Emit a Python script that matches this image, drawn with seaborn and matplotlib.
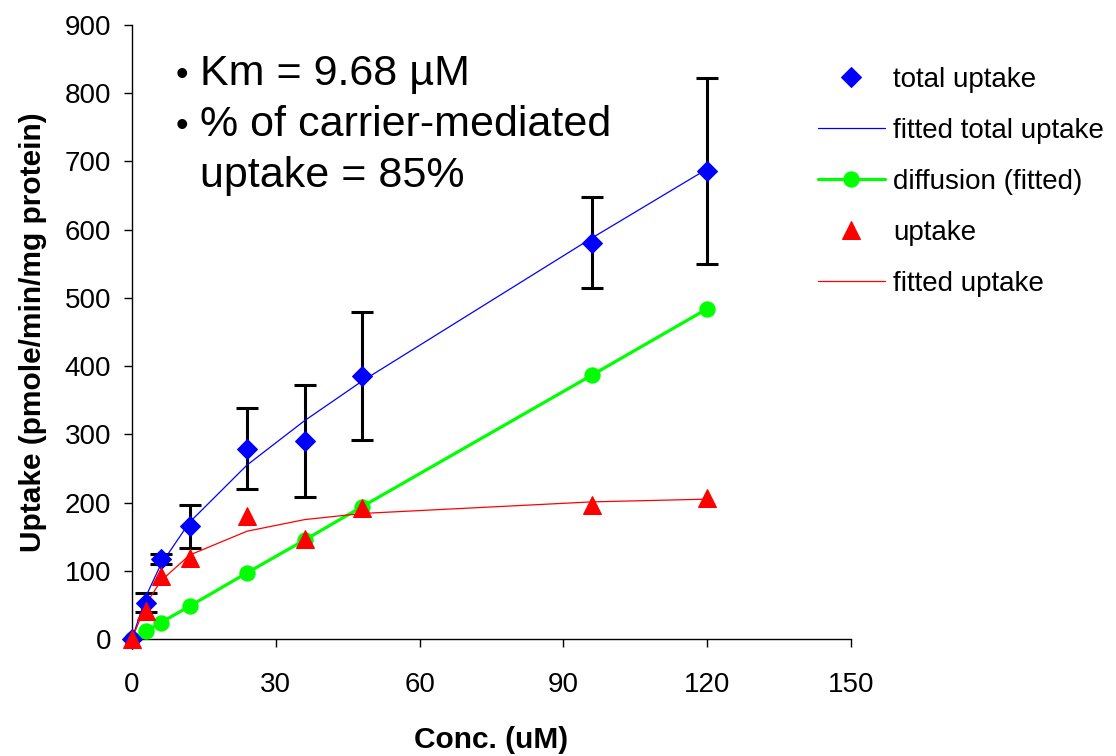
import matplotlib
matplotlib.use("Agg")
import matplotlib.pyplot as plt
import numpy as np
import pandas as pd
import seaborn as sns

# Concentrations (uM)
conc = [0, 3, 6, 12, 24, 36, 48, 96, 120]

# Measured total uptake (pmole/min/mg protein) with standard deviations
total_uptake = [0, 53, 117, 165, 279, 290, 385, 581, 686]
total_sd = [0, 14, 7, 32, 59, 82, 94, 67, 136]

# Fitted curves and derived carrier-mediated uptake
fitted_total = [0, 64, 109, 171, 255, 320, 378, 588, 689]
diffusion = [0, 12, 24, 48, 97, 145, 194, 387, 484]
uptake = [0, 41, 93, 118, 180, 146, 192, 196, 206]
fitted_uptake = [0, 52, 85, 123, 158, 175, 184, 201, 205]

x_ticks = [0, 30, 60, 90, 120, 150]
y_ticks = [0, 100, 200, 300, 400, 500, 600, 700, 800, 900]

note_lines = ["Km = 9.68 µM", "% of carrier-mediated", "uptake = 85%"]

sns.set_style("ticks")
plt.rcParams["font.family"] = ["Liberation Sans", "DejaVu Sans"]
for key in ("text.color", "axes.labelcolor", "xtick.color", "ytick.color", "axes.edgecolor"):
    plt.rcParams[key] = "black"

df = pd.DataFrame({
    "conc": conc,
    "total": total_uptake,
    "sd": total_sd,
    "fit_total": fitted_total,
    "diff": diffusion,
    "uptake": uptake,
    "fit_uptake": fitted_uptake,
})

W, H = 1116, 756
fig = plt.figure(figsize=(W / 100, H / 100), dpi=100)
ax = fig.add_axes([132 / W, 1 - 639 / H, (851 - 132) / W, (639 - 25) / H])

# error bars behind the markers
err = df[df["sd"] > 0]
ax.errorbar(err["conc"], err["total"], yerr=err["sd"], fmt="none",
            ecolor="black", elinewidth=2.2, capsize=8, capthick=2.2, zorder=2)

sns.lineplot(data=df, x="conc", y="total", ax=ax, estimator=None,
             linestyle="", marker="D", markersize=10, color="#0000FF",
             markeredgecolor="#0000FF", label="total uptake", clip_on=False, zorder=4)
sns.lineplot(data=df, x="conc", y="fit_total", ax=ax, estimator=None,
             color="#0000FF", linewidth=0.9, label="fitted total uptake", zorder=3)
sns.lineplot(data=df, x="conc", y="diff", ax=ax, estimator=None,
             color="#00FF00", linewidth=2.3, marker="o", markersize=11,
             markeredgecolor="#00FF00", label="diffusion (fitted)", clip_on=False, zorder=3)
sns.lineplot(data=df, x="conc", y="uptake", ax=ax, estimator=None,
             linestyle="", marker="^", markersize=13.5, color="#FF0000",
             markeredgecolor="#FF0000", label="uptake", clip_on=False, zorder=5)
sns.lineplot(data=df, x="conc", y="fit_uptake", ax=ax, estimator=None,
             color="#FF0000", linewidth=0.9, label="fitted uptake", zorder=3)

ax.set_xlim(0, 150)
ax.set_ylim(0, 900)
ax.set_xticks(x_ticks)
ax.set_yticks(y_ticks)
ax.tick_params(axis="both", direction="out", length=6, width=1, color="black",
               labelsize=20, labelcolor="black")
ax.tick_params(axis="x", pad=18)
ax.tick_params(axis="y", pad=9)
for side in ("top", "right"):
    ax.spines[side].set_visible(False)
for side in ("left", "bottom"):
    ax.spines[side].set_color("black")
    ax.spines[side].set_linewidth(1)

ax.set_xlabel("Conc. (uM)", fontsize=21.5, fontweight="bold", labelpad=20)
ax.set_ylabel("Uptake (pmole/min/mg protein)", fontsize=21.5, fontweight="bold", labelpad=13)

# Legend outside the plotting area on the right
ax.legend(loc="upper left", bbox_to_anchor=(818 / W, 1 - 67 / H),
          bbox_transform=fig.transFigure, frameon=False, fontsize=20,
          handlelength=2.4, handletextpad=0.3, labelspacing=0.9,
          borderpad=0, borderaxespad=0, numpoints=1)

# Summary notes
note_base = [85, 136, 187]
bullets = [True, True, False]
for line, y, b in zip(note_lines, note_base, bullets):
    if b:
        fig.text(176 / W, 1 - y / H, "•", fontsize=26, va="baseline", ha="left")
    fig.text(200 / W, 1 - y / H, line, fontsize=31, va="baseline", ha="left")

fig.savefig("out.png", dpi=100, facecolor="white")
